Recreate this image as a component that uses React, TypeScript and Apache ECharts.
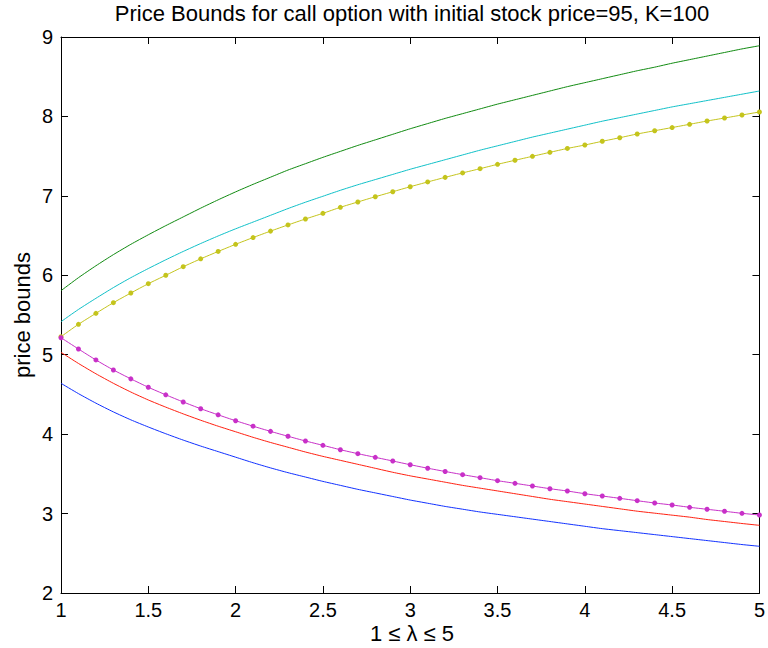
import React, { useEffect, useRef } from "react";
import * as echarts from "echarts";

const lambdaValues = [
  1.0, 1.1, 1.2, 1.3, 1.4, 1.5, 1.6, 1.7, 1.8, 1.9,
  2.0, 2.1, 2.2, 2.3, 2.4, 2.5, 2.6, 2.7, 2.8, 2.9,
  3.0, 3.1, 3.2, 3.3, 3.4, 3.5, 3.6, 3.7, 3.8, 3.9,
  4.0, 4.1, 4.2, 4.3, 4.4, 4.5, 4.6, 4.7, 4.8, 4.9, 5.0,
];

const greenUpper = [
  5.806, 5.97, 6.12, 6.26, 6.39, 6.51, 6.625, 6.735, 6.845, 6.95,
  7.05, 7.145, 7.235, 7.325, 7.405, 7.485, 7.56, 7.635, 7.705, 7.775,
  7.845, 7.91, 7.975, 8.035, 8.095, 8.155, 8.21, 8.265, 8.32, 8.375,
  8.425, 8.475, 8.525, 8.575, 8.62, 8.67, 8.715, 8.76, 8.805, 8.85, 8.89,
];

const cyanUpper = [
  5.416, 5.57, 5.71, 5.845, 5.97, 6.085, 6.195, 6.3, 6.4, 6.495,
  6.585, 6.67, 6.755, 6.84, 6.92, 6.995, 7.07, 7.14, 7.205, 7.27,
  7.335, 7.395, 7.455, 7.515, 7.575, 7.63, 7.685, 7.74, 7.79, 7.84,
  7.89, 7.94, 7.985, 8.03, 8.075, 8.12, 8.16, 8.2, 8.24, 8.28, 8.32,
];

const yellowUpper = [
  5.227, 5.383, 5.521, 5.655, 5.777, 5.894, 6.0, 6.108, 6.207, 6.3,
  6.39, 6.475, 6.556, 6.634, 6.709, 6.78, 6.856, 6.923, 6.989, 7.052,
  7.115, 7.175, 7.233, 7.289, 7.342, 7.397, 7.448, 7.498, 7.548, 7.597,
  7.64, 7.687, 7.732, 7.779, 7.82, 7.86, 7.901, 7.942, 7.98, 8.018, 8.056,
];

const magentaLower = [
  5.214, 5.072, 4.934, 4.808, 4.696, 4.59, 4.495, 4.405, 4.32, 4.243,
  4.169, 4.1, 4.035, 3.973, 3.914, 3.859, 3.804, 3.754, 3.708, 3.662,
  3.615, 3.571, 3.53, 3.49, 3.452, 3.414, 3.381, 3.347, 3.313, 3.284,
  3.25, 3.221, 3.192, 3.162, 3.133, 3.108, 3.079, 3.054, 3.029, 3.003, 2.982,
];

const redLower = [
  5.03, 4.89, 4.76, 4.64, 4.53, 4.43, 4.34, 4.255, 4.175, 4.1,
  4.03, 3.96, 3.895, 3.835, 3.775, 3.72, 3.67, 3.62, 3.57, 3.52,
  3.475, 3.435, 3.395, 3.355, 3.32, 3.285, 3.25, 3.215, 3.18, 3.15,
  3.12, 3.09, 3.06, 3.03, 3.005, 2.98, 2.955, 2.925, 2.9, 2.875, 2.852,
];

const blueLower = [
  4.64, 4.51, 4.39, 4.28, 4.18, 4.09, 4.005, 3.925, 3.85, 3.78,
  3.71, 3.64, 3.575, 3.515, 3.46, 3.405, 3.355, 3.305, 3.26, 3.215,
  3.17, 3.13, 3.09, 3.055, 3.02, 2.99, 2.96, 2.93, 2.9, 2.87,
  2.84, 2.81, 2.785, 2.76, 2.735, 2.71, 2.685, 2.66, 2.635, 2.61, 2.588,
];

const titleText = "Price Bounds for call option with initial stock price=95, K=100";
const xLabel = "1 \u2264 \u03bb \u2264 5";
const yLabel = "price bounds";

const FONT = "'Liberation Sans', Arial, Helvetica, sans-serif";

function pairs(ys: number[]) {
  return lambdaValues.map((x, i) => [x, ys[i]]);
}

export default function App() {
  const ref = useRef<HTMLDivElement>(null);

  useEffect(() => {
    document.body.style.margin = "0";
    if (!ref.current) return;
    const chart = echarts.init(ref.current, undefined, { renderer: "svg" });

    const grid = { left: 61, right: 5, top: 37, bottom: 55 };
    const plotCenterX = 61 + (768 - 61 - 5) / 2;
    const plotCenterY = 37 + (648 - 37 - 55) / 2;

    const axisLine = { show: true, onZero: false, lineStyle: { color: "#000", width: 1 } };
    const axisTick = { show: true, inside: true, length: 7, lineStyle: { color: "#000", width: 1 } };

    const mkLine = (name: string, ys: number[], color: string, markers: boolean) => ({
      name,
      type: "line",
      data: pairs(ys),
      showSymbol: markers,
      symbol: "circle",
      symbolSize: markers ? 5 : 0,
      smooth: 0.2,
      lineStyle: { color, width: 1 },
      itemStyle: { color },
      emphasis: { disabled: true },
      silent: true,
      z: 2,
    });

    chart.setOption({
      animation: false,
      backgroundColor: "#fff",
      textStyle: { fontFamily: FONT },
      grid,
      xAxis: [
        {
          type: "value",
          position: "bottom",
          min: 1,
          max: 5,
          interval: 0.5,
          axisLine,
          axisTick,
          splitLine: { show: false },
          axisLabel: { color: "#000", fontSize: 20, margin: 7, fontFamily: FONT },
        },
        {
          type: "value",
          position: "top",
          min: 1,
          max: 5,
          interval: 0.5,
          axisLine,
          axisTick,
          splitLine: { show: false },
          axisLabel: { show: false },
        },
      ],
      yAxis: [
        {
          type: "value",
          position: "left",
          min: 2,
          max: 9,
          interval: 1,
          axisLine,
          axisTick,
          splitLine: { show: false },
          axisLabel: { color: "#000", fontSize: 20, margin: 8, fontFamily: FONT },
        },
        {
          type: "value",
          position: "right",
          min: 2,
          max: 9,
          interval: 1,
          axisLine,
          axisTick,
          splitLine: { show: false },
          axisLabel: { show: false },
        },
      ],
      graphic: [
        {
          type: "text",
          x: plotCenterX,
          y: 13,
          style: {
            text: titleText,
            fontSize: 22,
            fontFamily: FONT,
            fill: "#000",
            align: "center",
            verticalAlign: "middle",
          },
        },
        {
          type: "text",
          x: plotCenterX,
          y: 633,
          style: {
            text: xLabel,
            fontSize: 22,
            fontFamily: FONT,
            fill: "#000",
            align: "center",
            verticalAlign: "middle",
          },
        },
        {
          type: "text",
          x: 22,
          y: plotCenterY,
          rotation: Math.PI / 2,
          style: {
            text: yLabel,
            fontSize: 22,
            fontFamily: FONT,
            fill: "#000",
            align: "center",
            verticalAlign: "middle",
          },
        },
      ],
      series: [
        mkLine("upper1", greenUpper, "#108a10", false),
        mkLine("upper2", cyanUpper, "#10c0c8", false),
        mkLine("upper3", yellowUpper, "#c4c41c", true),
        mkLine("lower3", magentaLower, "#c830c8", true),
        mkLine("lower2", redLower, "#ff2010", false),
        mkLine("lower1", blueLower, "#1030ff", false),
      ],
    });

    return () => chart.dispose();
  }, []);

  return <div ref={ref} style={{ width: 768, height: 648 }} />;
}
